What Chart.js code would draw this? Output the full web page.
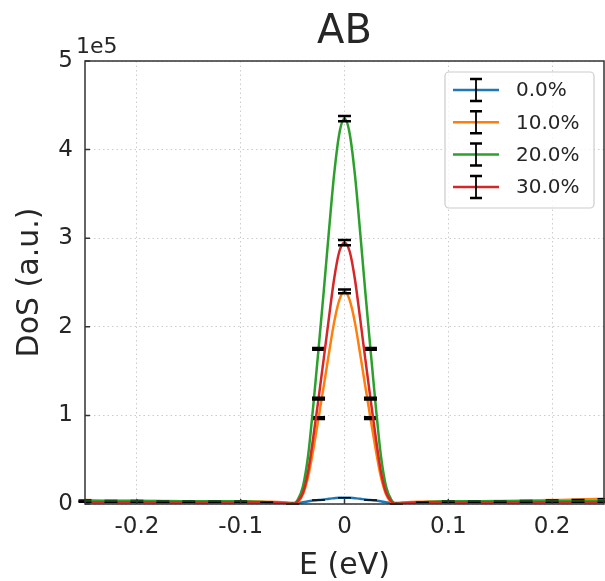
<!DOCTYPE html>
<html>
<head>
<meta charset="utf-8">
<script src="https://cdn.jsdelivr.net/npm/chart.js@4/dist/chart.umd.min.js"></script>
<style>
  body { margin: 0; background: #fff; }
  canvas { display: block; }
</style>
</head>
<body>
<canvas id="dos" width="605" height="581"></canvas>
<script>
// energy grid (eV)
const energies = [-0.25, -0.225, -0.2, -0.175, -0.15, -0.125, -0.1, -0.075, -0.06,
  -0.05, -0.045, -0.04, -0.035, -0.03, -0.025, -0.02, -0.015, -0.01, -0.005, 0,
  0.005, 0.01, 0.015, 0.02, 0.025, 0.03, 0.035, 0.04, 0.045, 0.05,
  0.06, 0.075, 0.1, 0.125, 0.15, 0.175, 0.2, 0.225, 0.25];

// DoS in units of 1e5
const dos0 = [0.03, 0.03, 0.03, 0.02, 0.02, 0.02, 0.02, 0.02, 0.02,
  0.01, 0.01, 0.02, 0.03, 0.04, 0.045, 0.05, 0.06, 0.065, 0.07, 0.07,
  0.07, 0.065, 0.06, 0.05, 0.045, 0.04, 0.03, 0.02, 0.01, 0.01,
  0.02, 0.02, 0.02, 0.02, 0.02, 0.02, 0.03, 0.03, 0.03];
const dos10 = [0.045, 0.04, 0.04, 0.035, 0.03, 0.03, 0.03, 0.025, 0.02,
  0.0, 0.02, 0.11, 0.31, 0.62, 0.97, 1.33, 1.70, 2.05, 2.30, 2.40,
  2.30, 2.05, 1.70, 1.33, 0.97, 0.62, 0.31, 0.11, 0.02, 0.0,
  0.02, 0.025, 0.03, 0.03, 0.035, 0.04, 0.045, 0.05, 0.06];
const dos20 = [0.03, 0.03, 0.03, 0.03, 0.03, 0.03, 0.03, 0.02, 0.01,
  0.0, 0.05, 0.20, 0.55, 1.12, 1.75, 2.40, 3.08, 3.72, 4.18, 4.35,
  4.18, 3.72, 3.08, 2.40, 1.75, 1.12, 0.55, 0.20, 0.05, 0.0,
  0.01, 0.02, 0.03, 0.03, 0.03, 0.03, 0.03, 0.03, 0.03];
const dos30 = [0.02, 0.02, 0.02, 0.02, 0.02, 0.02, 0.02, 0.02, 0.01,
  0.0, 0.03, 0.13, 0.37, 0.76, 1.19, 1.64, 2.10, 2.54, 2.85, 2.95,
  2.85, 2.54, 2.10, 1.64, 1.19, 0.76, 0.37, 0.13, 0.03, 0.0,
  0.01, 0.02, 0.02, 0.02, 0.02, 0.02, 0.02, 0.02, 0.02];

// error bars (every 0.025 eV)
const errEnergies = [-0.25, -0.225, -0.2, -0.175, -0.15, -0.125, -0.1, -0.075, -0.05, -0.025, 0,
  0.025, 0.05, 0.075, 0.1, 0.125, 0.15, 0.175, 0.2, 0.225, 0.25];
const err0  = [0, 0, 0, 0, 0, 0, 0, 0, 0, 0, 0,
  0, 0, 0, 0, 0, 0, 0, 0, 0, 0];
const err10 = [0, 0, 0, 0, 0, 0, 0, 0, 0, 0.01, 0.02,
  0.01, 0, 0, 0, 0, 0, 0, 0, 0, 0];
const err20 = [0, 0, 0, 0, 0, 0, 0, 0, 0, 0.01, 0.03,
  0.01, 0, 0, 0, 0, 0, 0, 0, 0, 0];
const err30 = [0, 0, 0, 0, 0, 0, 0, 0, 0, 0.01, 0.03,
  0.01, 0, 0, 0, 0, 0, 0, 0, 0, 0];

const labels = ['0.0%', '10.0%', '20.0%', '30.0%'];
const colors = ['#1f77b4', '#ff7f0e', '#2ca02c', '#d62728'];
const series = [dos0, dos10, dos20, dos30];
const errors = [err0, err10, err20, err30];

const xTicks = [-0.2, -0.1, 0, 0.1, 0.2];
const FONT = "'DejaVu Sans', sans-serif";
const TEXT = '#262626';

const fmtX = (v) => {
  if (Math.abs(v) < 1e-9) return '0';
  return v.toFixed(1);
};

// error bars drawn right after their own line, like matplotlib
const errorBars = {
  id: 'errorBars',
  afterDatasetDraw(chart, args) {
    const si = args.index;
    const vals = series[si];
    const { ctx, scales: { x, y } } = chart;
    ctx.save();
    ctx.strokeStyle = '#000';
    errEnergies.forEach((e, k) => {
      const j = energies.findIndex(v => Math.abs(v - e) < 1e-9);
      if (j < 0) return;
      const px = x.getPixelForValue(e);
      const top = y.getPixelForValue(vals[j] + errors[si][k]);
      const bot = y.getPixelForValue(vals[j] - errors[si][k]);
      ctx.lineWidth = 1.5;
      ctx.beginPath();
      ctx.moveTo(px, top); ctx.lineTo(px, bot);
      ctx.stroke();
      // baseline caps are thin, the peak ones stand out
      ctx.lineWidth = errors[si][k] > 0 ? 2.5 : 1.5;
      ctx.beginPath();
      ctx.moveTo(px - 6.5, top); ctx.lineTo(px + 6.5, top);
      ctx.moveTo(px - 6.5, bot); ctx.lineTo(px + 6.5, bot);
      ctx.stroke();
    });
    ctx.restore();
  }
};

// title, frame, inward ticks, offset text and legend box
const decorations = {
  id: 'decorations',
  afterDraw(chart) {
    const { ctx, chartArea: a, scales: { x, y } } = chart;
    ctx.save();
    ctx.strokeStyle = '#333';
    ctx.lineWidth = 1.5;
    ctx.strokeRect(a.left, a.top, a.right - a.left, a.bottom - a.top);
    ctx.beginPath();
    xTicks.forEach(v => {
      const px = x.getPixelForValue(v);
      ctx.moveTo(px, a.bottom); ctx.lineTo(px, a.bottom - 5);
    });
    [0, 1, 2, 3, 4, 5].forEach(v => {
      const py = y.getPixelForValue(v);
      ctx.moveTo(a.left, py); ctx.lineTo(a.left + 5, py);
    });
    ctx.stroke();

    ctx.fillStyle = TEXT;
    ctx.textAlign = 'center';
    ctx.textBaseline = 'middle';
    ctx.font = `40px ${FONT}`;
    ctx.fillText('AB', (a.left + a.right) / 2, 33);

    ctx.font = `22px ${FONT}`;
    ctx.textBaseline = 'alphabetic';
    ctx.textAlign = 'left';
    ctx.fillText('1e5', 76, 53);

    // legend
    const bx = 445, by = 72, bw = 149, bh = 136;
    ctx.beginPath();
    ctx.roundRect(bx, by, bw, bh, 4);
    ctx.fillStyle = 'rgba(255,255,255,0.8)';
    ctx.fill();
    ctx.strokeStyle = '#cccccc';
    ctx.lineWidth = 1.2;
    ctx.stroke();
    labels.forEach((lab, i) => {
      const cy = 90 + i * 32.3;
      ctx.strokeStyle = colors[i];
      ctx.lineWidth = 2.5;
      ctx.beginPath();
      ctx.moveTo(453, cy); ctx.lineTo(499, cy);
      ctx.stroke();
      ctx.strokeStyle = '#000';
      ctx.lineWidth = 1.8;
      ctx.beginPath();
      ctx.moveTo(476, cy - 11); ctx.lineTo(476, cy + 11);
      ctx.stroke();
      ctx.lineWidth = 2.5;
      ctx.beginPath();
      ctx.moveTo(470, cy - 11); ctx.lineTo(482, cy - 11);
      ctx.moveTo(470, cy + 11); ctx.lineTo(482, cy + 11);
      ctx.stroke();
      ctx.fillStyle = TEXT;
      ctx.font = `20px ${FONT}`;
      ctx.textBaseline = 'middle';
      ctx.fillText(lab, 516, cy + 1);
    });
    ctx.restore();
  }
};

new Chart(document.getElementById('dos'), {
  type: 'line',
  data: {
    datasets: series.map((vals, i) => ({
      label: labels[i],
      data: energies.map((e, j) => ({ x: e, y: vals[j] })),
      borderColor: colors[i],
      borderWidth: 2.5,
      pointRadius: 0,
      cubicInterpolationMode: 'monotone',
      fill: false,
      order: 3 - i,
    }))
  },
  options: {
    responsive: false,
    animation: false,
    devicePixelRatio: 1,
    layout: { padding: { top: 61, right: 1 } },
    plugins: {
      legend: { display: false },
      tooltip: { enabled: false },
      title: { display: false },
    },
    scales: {
      x: {
        type: 'linear',
        min: -0.25,
        max: 0.25,
        afterBuildTicks: (scale) => { scale.ticks = xTicks.map(v => ({ value: v })); },
        afterFit: (scale) => { scale.height = 77; },
        ticks: {
          callback: (v) => fmtX(v),
          color: TEXT,
          font: { family: FONT, size: 23 },
          padding: 9,
          maxRotation: 0,
        },
        grid: { color: '#cccccc', lineWidth: 1, drawTicks: false },
        border: { display: false, dash: [1.5, 3] },
        title: {
          display: true,
          text: 'E (eV)',
          color: TEXT,
          font: { family: FONT, size: 30 },
          padding: { top: 0, bottom: -3 },
        },
      },
      y: {
        min: 0,
        max: 5,
        afterFit: (scale) => { scale.width = 85; },
        ticks: {
          stepSize: 1,
          color: TEXT,
          font: { family: FONT, size: 23 },
          padding: 12,
        },
        grid: { color: '#cccccc', lineWidth: 1, drawTicks: false },
        border: { display: false, dash: [1.5, 3] },
        title: {
          display: true,
          text: 'DoS (a.u.)',
          color: TEXT,
          font: { family: FONT, size: 30 },
          padding: { top: 12, bottom: 0 },
        },
      },
    },
  },
  plugins: [errorBars, decorations],
});
</script>
</body>
</html>
